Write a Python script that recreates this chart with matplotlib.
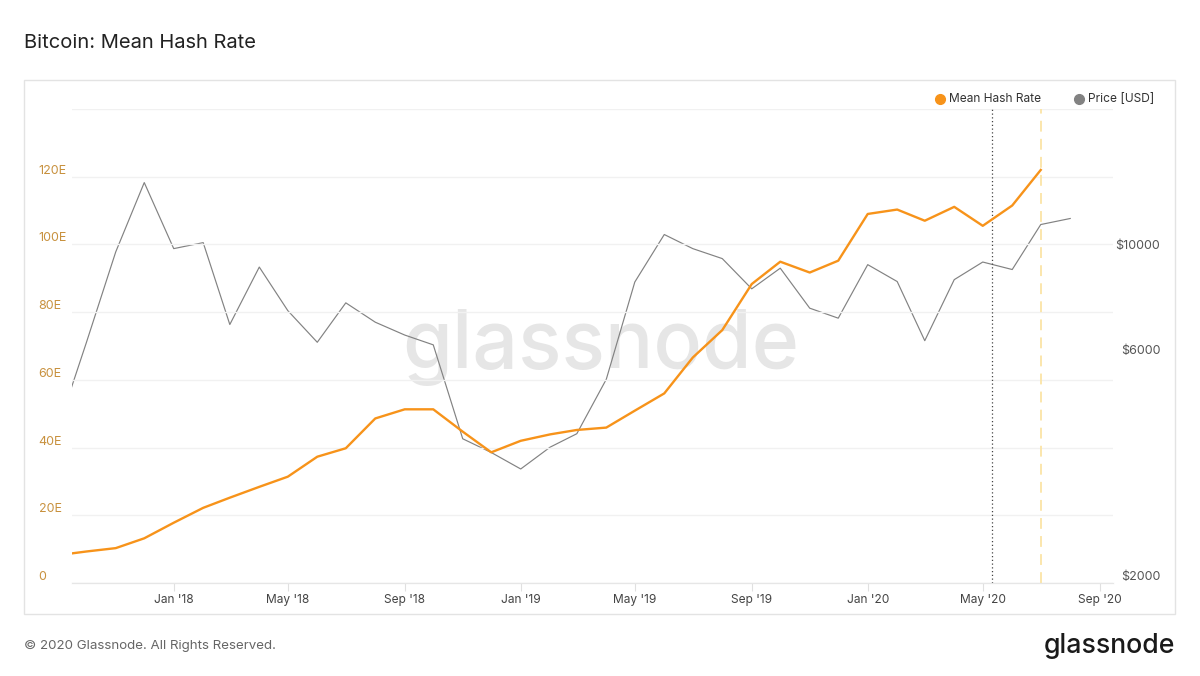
import matplotlib
matplotlib.use('Agg')
import matplotlib.pyplot as plt
import matplotlib.dates as mdates
from matplotlib.lines import Line2D
from matplotlib.patches import Rectangle
import pandas as pd

plt.rcParams['font.family'] = ['Inter', 'DejaVu Sans']

# monthly points (month start), Sep 2017 -> Aug 2020
months = pd.date_range('2017-09-01', '2020-08-01', freq='MS')

# Mean hash rate in EH/s (Sep 2017 -> Jul 2020)
hash_rate = [8.2, 9.3, 10.3, 13.2, 17.8, 22.2, 25.2, 28.4, 31.4, 37.3, 39.8, 48.6,
             51.3, 51.3, 44.7, 38.6, 42.0, 43.9, 45.2, 45.9, 50.9, 56.0, 66.6, 74.7,
             88.3, 94.9, 91.7, 95.2, 109.0, 110.3, 107.0, 111.1, 105.5, 111.5, 122.0]

# Price in USD (Sep 2017 -> Aug 2020)
price = [4230, 6420, 9990, 13990, 10150, 10450, 7020, 9280, 7510, 6440, 7800, 7100,
         6670, 6360, 4030, 3770, 3480, 3870, 4130, 5380, 8630, 10870, 10150, 9670,
         8350, 9230, 7600, 7240, 9390, 8650, 6490, 8730, 9510, 9170, 11410, 11750]

left_ticks = [0, 20, 40, 60, 80, 100, 120, 140]
left_labels = ['0', '20E', '40E', '60E', '80E', '100E', '120E', '']
right_ticks = [2000, 6000, 10000]
right_labels = ['$2000', '$6000', '$10000']
series_names = ['Mean Hash Rate', 'Price [USD]']

halving = pd.Timestamp('2020-05-11')
last_day = pd.Timestamp('2020-07-01')

ORANGE = '#f7931a'
GREY = '#828282'

fig = plt.figure(figsize=(12, 6.76), dpi=100)

# panel frame
fig.patches.append(Rectangle((24 / 1200, 1 - 614 / 676), 1151 / 1200, 534 / 676,
                             transform=fig.transFigure, fill=False,
                             edgecolor='#e3e3e3', lw=1))

ax = fig.add_axes([72 / 1200, 1 - 583 / 676, 1041 / 1200, 474 / 676])
ax2 = ax.twinx()
ax.set_zorder(ax2.get_zorder() + 1)
ax.patch.set_visible(False)

# price on log scale (right)
ax2.plot(months, price, color=GREY, lw=0.85)
ax2.set_yscale('log')
ax2.set_ylim(2000, 20000)
ax2.set_yticks(right_ticks)
ax2.set_yticklabels(right_labels)
ax2.minorticks_off()
ax2.tick_params(axis='y', length=0, pad=34, labelsize=9, labelcolor='#555555')
plt.setp(ax2.get_yticklabels(), ha='right', va='bottom')

# watermark
ax2.text(0.508, 0.4536, 'glassnode', transform=ax.transAxes, ha='center',
         va='baseline', fontsize=58, fontweight='medium', color='#e6e6e6', zorder=0)

# hash rate (left)
ax.plot(months[:len(hash_rate)], hash_rate, color=ORANGE, lw=1.7, zorder=3)
ax.set_ylim(0, 140)
ax.set_yticks(left_ticks)
ax.set_yticklabels(left_labels)
ax.tick_params(axis='y', length=0, pad=24, labelsize=9, labelcolor='#c8913e')
plt.setp(ax.get_yticklabels(), ha='left', va='bottom')
ax.grid(axis='y', color='#f1f1f1', lw=1)
ax.set_axisbelow(True)

ax.axvline(halving, color='#444444', ls=(0, (1, 2)), lw=0.9, zorder=2)
ax.axvline(last_day, color='#fbe4a6', ls=(0, (6, 4)), lw=1.3, zorder=2)

ax.set_xlim(pd.Timestamp('2017-09-16'), pd.Timestamp('2020-09-15'))
ax.xaxis.set_major_locator(mdates.MonthLocator(bymonth=[1, 5, 9]))
ax.xaxis.set_major_formatter(mdates.DateFormatter("%b '%y"))
ax.tick_params(axis='x', length=6, color='#e0e0e0', labelsize=8.6,
               labelcolor='#444444', pad=2)

for a in (ax, ax2):
    for side in ('top', 'left', 'right'):
        a.spines[side].set_visible(False)
    a.spines['bottom'].set_color('#e6e6e6')

# legend, drawn by hand to sit where the original does
leg_y = 1 - 99 / 676
for x_dot, colour, name in zip([940, 1079], [ORANGE, GREY], series_names):
    fig.add_artist(Line2D([x_dot / 1200], [leg_y], marker='o', ls='', color=colour,
                          markersize=7, transform=fig.transFigure))
    fig.text((x_dot + 9) / 1200, leg_y, name, fontsize=8.6, color='#333333',
             va='center')

fig.text(24 / 1200, 1 - 43 / 676, 'Bitcoin: Mean Hash Rate', fontsize=14.5,
         color='#222222', va='center')
fig.text(24 / 1200, 1 - 646 / 676, '© 2020 Glassnode. All Rights Reserved.',
         fontsize=9.6, color='#666666', va='center')
fig.text(1175 / 1200, 1 - 646 / 676, 'glassnode', fontsize=19.2, fontweight='medium',
         color='#1a1a1a', ha='right', va='center')

fig.savefig('out.png', dpi=100)
